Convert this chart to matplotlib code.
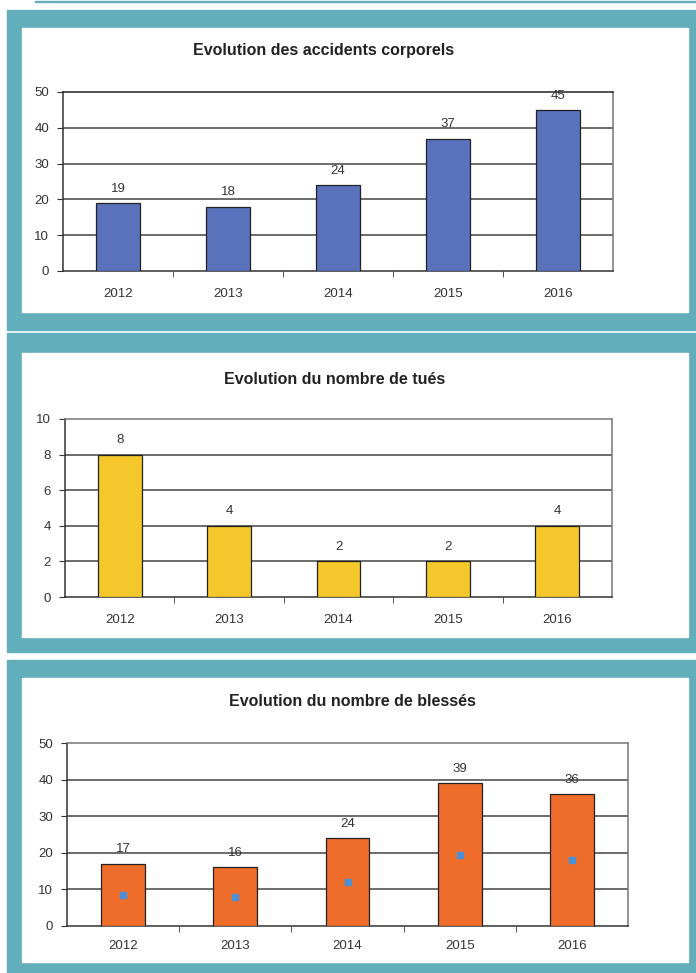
import matplotlib
matplotlib.use("Agg")
import matplotlib.pyplot as plt
from matplotlib.patches import Rectangle

plt.rcParams["font.family"] = ["Liberation Sans", "DejaVu Sans"]

W, H = 696, 973

years = ["2012", "2013", "2014", "2015", "2016"]
accidents = [19, 18, 24, 37, 45]
tues = [8, 4, 2, 2, 4]
blesses = [17, 16, 24, 39, 36]
blesses_points = [8.5, 8, 12, 19.5, 18]

TEAL = "#62aebb"


def px_box(left, top, right, bottom):
    """Pixel box -> figure fraction rect [x0, y0, w, h]."""
    return [left / W, 1 - bottom / H, (right - left) / W, (bottom - top) / H]


def panel(fig, top, bottom, inner_top, inner_bottom):
    fig.patches.append(Rectangle((7 / W, 1 - bottom / H), (W - 7) / W, (bottom - top) / H,
                                 transform=fig.transFigure, color=TEAL, zorder=-2))
    fig.patches.append(Rectangle((22 / W, 1 - inner_bottom / H), (688 - 22) / W,
                                 (inner_bottom - inner_top) / H,
                                 transform=fig.transFigure, color="white", zorder=-1))


def bar_chart(ax, values, color, ymax, step, width=0.4):
    ax.set_zorder(5)
    ax.patch.set_alpha(0)
    x = range(len(years))
    ax.bar(x, values, width=width, color=color, edgecolor="#222222", linewidth=0.9, zorder=3)
    for xi, v in zip(x, values):
        ax.annotate(str(v), (xi, v), xytext=(0, 6), textcoords="offset points",
                    ha="center", va="bottom", fontsize=9.5, color="#333333", zorder=4)
    ax.set_xlim(-0.5, len(years) - 0.5)
    ax.set_ylim(0, ymax)
    ax.set_yticks(range(0, ymax + 1, step))
    ax.set_xticks(list(x))
    ax.set_xticklabels(years)
    ax.set_xticks([i + 0.5 for i in range(len(years) - 1)], minor=True)
    ax.tick_params(axis="x", which="major", length=0, pad=12, labelsize=9.5, labelcolor="#333333")
    ax.tick_params(axis="x", which="minor", length=4, direction="out", color="#333333")
    ax.tick_params(axis="y", length=4, direction="out", pad=6, labelsize=9.5,
                   labelcolor="#333333", color="#333333")
    for g in range(step, ymax, step):
        ax.axhline(g, color="#444444", linewidth=1.1, zorder=1)
    ax.spines["left"].set_color("#333333")
    ax.spines["bottom"].set_color("#333333")
    ax.spines["top"].set_color("#777777")
    ax.spines["right"].set_color("#777777")
    for s in ax.spines.values():
        s.set_linewidth(1.1)


fig = plt.figure(figsize=(W / 100, H / 100), dpi=100)
fig.patch.set_facecolor("white")

# thin rule at the very top
fig.patches.append(Rectangle((35 / W, 1 - 2 / H), (W - 35) / W, 1.5 / H,
                             transform=fig.transFigure, color=TEAL, zorder=-2))

panel(fig, 10, 330, 28, 312)
panel(fig, 333, 652, 353, 637)
panel(fig, 660, 973, 678, 962)

title_kw = dict(ha="center", va="center", fontsize=11.5, fontweight="bold", color="#222222")

# accidents corporels
ax1 = fig.add_axes(px_box(63, 92, 613, 271))
bar_chart(ax1, accidents, "#5a72bb", 50, 10)
ax1.spines["top"].set_color("#222222")
fig.text(324 / W, 1 - 50 / H, "Evolution des accidents corporels", **title_kw)

# tués
ax2 = fig.add_axes(px_box(65, 419, 612, 597))
bar_chart(ax2, tues, "#f4c82a", 10, 2)
fig.text(335 / W, 1 - 379 / H, "Evolution du nombre de tués", **title_kw)

# blessés
ax3 = fig.add_axes(px_box(67, 743, 628, 926))
bar_chart(ax3, blesses, "#ee6d2b", 50, 10, width=0.39)
ax3.tick_params(axis="x", which="major", pad=10)
ax3.plot(range(len(years)), blesses_points, linestyle="none", marker="s", markersize=4,
         color="#4b8fd6", zorder=5)
fig.text(352 / W, 1 - 701 / H, "Evolution du nombre de blessés", **title_kw)

fig.savefig("out.png", dpi=100)
